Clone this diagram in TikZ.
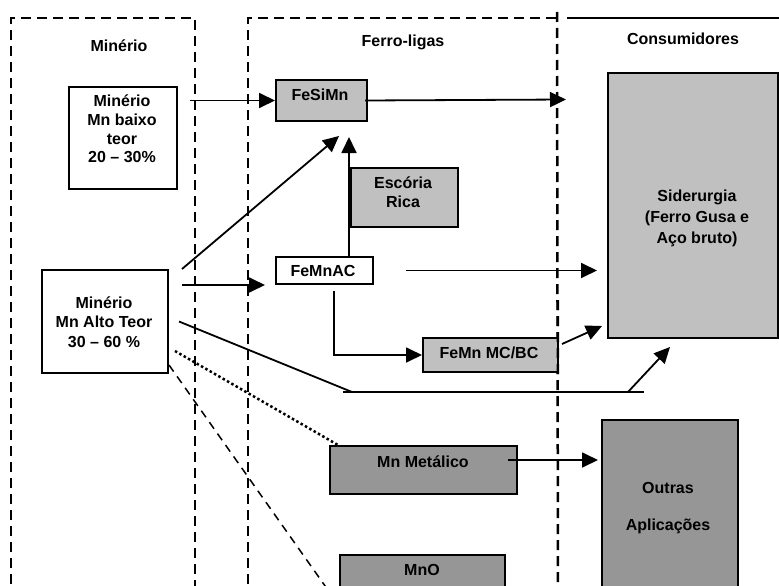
\documentclass[tikz,border=0pt]{standalone}
\usepackage{fontspec}
\setmainfont{Liberation Sans}
\usetikzlibrary{arrows.meta}
\definecolor{lg}{HTML}{C0C0C0}
\definecolor{dg}{HTML}{969696}
\begin{document}
\begin{tikzpicture}[x=1pt,y=-1pt,
  box/.style={draw,line width=2pt,inner sep=0pt,anchor=north west},
  lbl/.style={font=\bfseries\fontsize{16}{19}\selectfont,align=center,inner sep=0pt},
  frame/.style={line width=2.5pt,dash pattern=on 10pt off 6pt},
  conn/.style={line width=1.8pt},
  arr/.style={conn,-{Triangle[length=16pt,width=15pt]}},
]
\clip (0,0) rectangle (779,586);
\fill[white] (0,0) rectangle (779,586);
% frames
\draw[frame] (11,600) -- (11,18) -- (195,18) -- (195,600);
\draw[frame] (248,600) -- (248,18) -- (557,18);
\draw[frame] (557,12) -- (558,600);
\draw[line width=2pt] (567,18) -- (779,18);
% boxes
\node[box,minimum width=108pt,minimum height=102pt] (baixo) at (68,86) {};
\node[box,fill=lg,minimum width=91pt,minimum height=41pt] (fesimn) at (275,79) {};
\node[box,fill=lg,minimum width=107pt,minimum height=59pt] (escoria) at (350,167) {};
\node[box,fill=white,minimum width=97pt,minimum height=27pt] (femnac) at (275,256) {};
\node[box,minimum width=126pt,minimum height=103pt] (alto) at (41,269) {};
\node[box,fill=lg,minimum width=135pt,minimum height=34pt] (femnmc) at (422,337) {};
\node[box,fill=lg,minimum width=170pt,minimum height=265pt] (sider) at (607,72) {};
\node[box,fill=dg,minimum width=187pt,minimum height=48pt] (mnmet) at (329,445) {};
\node[box,fill=dg,minimum width=136pt,minimum height=200pt] (outras) at (601,419) {};
\node[box,fill=dg,minimum width=165pt,minimum height=60pt] (mno) at (339,554) {};
\draw[frame] (557.8,300) -- (558,380);
% texts
\node[lbl] (tmin) at (119,46) {Minério};
\node[lbl] (tfl) at (403,42) {Ferro-ligas};
\node[lbl] (tcons) at (683,39) {Consumidores};
\node[lbl,font=\bfseries\fontsize{16}{18.7}\selectfont] (tbaixo) at (122,129) {Minério\\Mn baixo\\teor\\20 – 30\%};
\node[lbl] (tfesimn) at (320,95) {FeSiMn};
\node[lbl] (tesc) at (403,192) {Escória\\Rica};
\node[lbl] (tfemnac) at (323,271) {FeMnAC};
\node[lbl,font=\bfseries\fontsize{16}{19.5}\selectfont] (talto) at (104,322) {Minério\\Mn Alto Teor\\30 – 60 \%};
\node[lbl] (tfemnmc) at (489,353) {FeMn MC/BC};
\node[lbl,font=\bfseries\fontsize{16}{21}\selectfont] (tsider) at (697,218) {Siderurgia\\(Ferro Gusa e\\Aço bruto)};
\node[lbl] (tmnmet) at (423,462) {Mn Metálico};
\node[lbl] (toutras) at (668,488) {Outras};
\node[lbl] (tapl) at (668,526) {Aplicações};
\node[lbl] (tmno) at (422,570) {MnO};
% connectors
\draw[arr] ([xshift=12pt]baixo.east |- fesimn.west) -- (fesimn.west);
\coordinate (c1) at (566,99.5);
\draw[arr] ([xshift=-3pt]fesimn.east) -- (c1);
\draw[arr] ([shift={(13pt,0pt)}]alto.north east) -- ([shift={(-29pt,-14pt)}]fesimn.south east);
\draw[arr] ([xshift=-1pt]femnac.north -| escoria.west) -- ([shift={(-1pt,-15pt)}]fesimn.south -| escoria.west);
\draw[arr] ([xshift=13pt]alto.east |- femnac.south west) -- ([xshift=-10pt]femnac.south west);
\draw[arr] ([xshift=32pt]femnac.east) -- ([xshift=-10pt]sider.west |- femnac.east);
\draw[arr] ([shift={(9.5pt,-6pt)}]femnac.south) |- (femnmc.west);
\draw[arr] ([shift={(3pt,-7pt)}]femnmc.north east) -- ([shift={(-5pt,13pt)}]sider.south west);
\coordinate (k0) at (343,392);
\coordinate (k1) at (352,392);
\coordinate (k2) at (644,392);
\coordinate (k3) at (628,392);
\draw[conn] ([xshift=10pt]alto.east) -- (k1);
\draw[conn] (k0) -- (k2);
\draw[arr] (k3) -- ([shift={(63pt,-8pt)}]sider.south west);
\draw[line width=2.5pt,dash pattern=on 2.5pt off 2.5pt] ([shift={(6pt,-29.5pt)}]alto.east) -- ([xshift=9pt]mnmet.north west);
\coordinate (dend) at (335,600);
\draw[line width=1.5pt,dash pattern=on 8pt off 6pt] ([yshift=9pt]alto.south east) -- (dend);
\coordinate (m1) at ([shift={(-10pt,10pt)}]mnmet.east);
\draw[arr] (m1) -- ([xshift=-3pt]m1 -| outras.west);
\end{tikzpicture}
\end{document}
